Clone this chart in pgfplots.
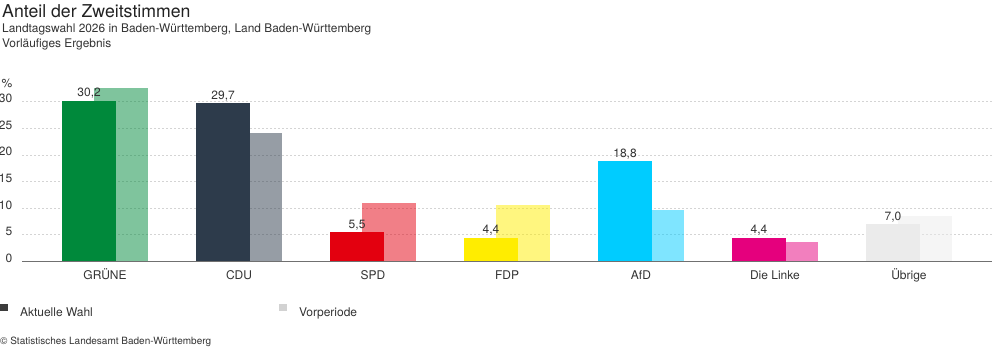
\documentclass[border=0pt]{standalone}
\usepackage{fontspec}
\setmainfont{TeX Gyre Heros}
\usepackage{pgfplots}
\pgfplotsset{compat=1.18}
\definecolor{txt}{HTML}{333333}
\definecolor{ttl}{HTML}{222222}
\definecolor{axcol}{HTML}{707070}
\definecolor{gridcol}{HTML}{D4D4D4}
\definecolor{gruene}{RGB}{0,137,59}
\definecolor{cdu}{HTML}{2D3B4B}
\definecolor{spd}{HTML}{E3000F}
\definecolor{fdp}{HTML}{FFED00}
\definecolor{afd}{HTML}{00CCFF}
\definecolor{linke}{HTML}{E5007D}
\definecolor{uebrige}{HTML}{EBEBEB}
\definecolor{legdark}{HTML}{3C3C3C}
\definecolor{leglight}{HTML}{D2D2D2}
\begin{document}
\begin{tikzpicture}[x=1pt,y=1pt]
\path[use as bounding box] (0,0) rectangle (992,352);
\node[anchor=base west, inner sep=0pt, text=ttl, font=\fontsize{17.7}{20}\selectfont] at (2,334.7) {Anteil der Zweitstimmen};
\node[anchor=base west, inner sep=0pt, text=txt, font=\fontsize{11.9}{14}\selectfont] at (2,319.5) {Landtagswahl 2026 in Baden-Württemberg, Land Baden-Württemberg};
\node[anchor=base west, inner sep=0pt, text=txt, font=\fontsize{11.9}{14}\selectfont] at (2,304) {Vorläufiges Ergebnis};
\node[anchor=base east, inner sep=0pt, text=txt, font=\fontsize{12}{14}\selectfont] at (12.5,264.5) {\%};
\node[anchor=base west, inner sep=0pt, text=txt, font=\fontsize{10}{12}\selectfont] at (0,7) {© Statistisches Landesamt Baden-Württemberg};
\begin{axis}[
  at={(22pt,90.7pt)}, anchor=south west,
  scale only axis, width=970pt, height=175.6pt,
  xmin=-0.62, xmax=6.62, ymin=0, ymax=33,
  axis lines=left,
  axis line style={-},
  y axis line style={draw=none},
  x axis line style={draw=axcol, line width=0.9pt},
  major tick length=0pt,
  tick style={draw=none},
  ytick={0,5,10,15,20,25,30},
  ymajorgrids,
  grid style={draw=gridcol, line width=0.6pt, dash pattern=on 2pt off 2pt},
  xtick={0,1,2,3,4,5,6},
  xticklabels={GRÜNE,CDU,SPD,FDP,AfD,Die Linke,Übrige},
  /pgf/number format/assume math mode=true,
  ticklabel style={font=\fontsize{12}{14}\selectfont, text=txt},
  yticklabel style={anchor=base east, inner sep=0pt, xshift=-9.5pt, yshift=-1pt},
  xticklabel style={anchor=base, inner sep=0pt, yshift=-18.7pt},
  clip=false,
  legend columns=2,
  legend cell align=left,
  legend image code/.code={\fill[#1] (0pt,1pt) rectangle (8pt,8pt);},
  legend style={at={(axis description cs:-0.02268,-0.283)}, anchor=west,
    draw=none, fill=none, inner sep=0pt, outer sep=0pt,
    font=\fontsize{12}{14}\selectfont, text=txt,
    nodes={inner sep=0pt},
    /tikz/every odd column/.append style={column sep=12pt},
    /tikz/every even column/.append style={column sep=0pt}},
  every axis plot/.append style={ybar, bar width=0.403, bar shift=0pt, draw=none},
  nodes near coords style={anchor=base, inner sep=0pt, yshift=4pt, font=\fontsize{12}{14}\selectfont, text=txt},
]
% Vorperiode (behind)
\addplot[fill=gruene, fill opacity=0.5, forget plot] coordinates {(0.119,32.6)};
\addplot[fill=cdu, fill opacity=0.5, forget plot] coordinates {(1.119,24.1)};
\addplot[fill=spd, fill opacity=0.5, forget plot] coordinates {(2.119,11.0)};
\addplot[fill=fdp, fill opacity=0.5, forget plot] coordinates {(3.119,10.5)};
\addplot[fill=afd, fill opacity=0.5, forget plot] coordinates {(4.119,9.7)};
\addplot[fill=linke, fill opacity=0.5, forget plot] coordinates {(5.119,3.6)};
\addplot[fill=uebrige, fill opacity=0.5, forget plot] coordinates {(6.119,8.5)};
% Aktuelle Wahl
\pgfplotsset{every axis plot/.append style={point meta=y, nodes near coords={\pgfmathprintnumber[fixed, fixed zerofill, precision=1, use comma]{\pgfplotspointmeta}}}}
\addplot[fill=gruene, forget plot] coordinates {(-0.119,30.2)};
\addplot[fill=cdu, forget plot] coordinates {(0.881,29.7)};
\addplot[fill=spd, forget plot] coordinates {(1.881,5.5)};
\addplot[fill=fdp, forget plot] coordinates {(2.881,4.4)};
\addplot[fill=afd, forget plot] coordinates {(3.881,18.8)};
\addplot[fill=linke, forget plot] coordinates {(4.881,4.4)};
\addplot[fill=uebrige, forget plot] coordinates {(5.881,7.0)};
\addlegendimage{fill=legdark}
\addlegendentry{\makebox[259pt][l]{Aktuelle Wahl}}
\addlegendimage{fill=leglight}
\addlegendentry{Vorperiode}
\end{axis}
\end{tikzpicture}
\end{document}
